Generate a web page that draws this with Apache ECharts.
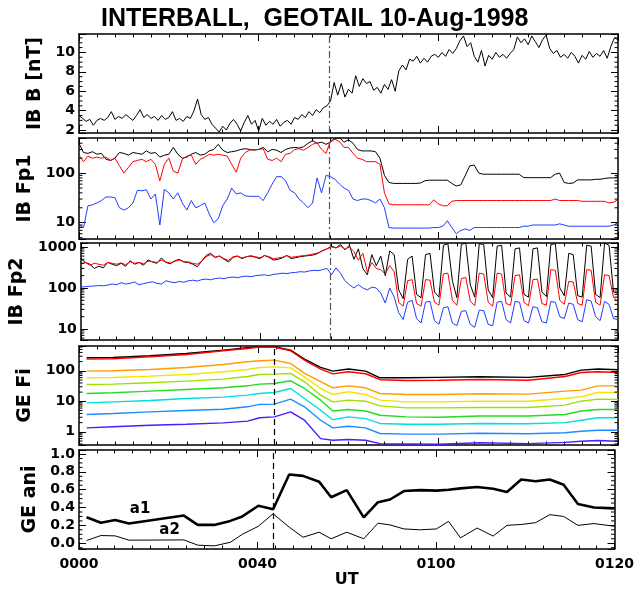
<!DOCTYPE html>
<html>
<head>
<meta charset="utf-8">
<title>INTERBALL, GEOTAIL 10-Aug-1998</title>
<script src="https://cdn.jsdelivr.net/npm/echarts@6/dist/echarts.min.js"></script>
<style>
  html, body { margin: 0; padding: 0; background: #fff; }
  #chart { width: 637px; height: 590px; }
</style>
</head>
<body>
<div id="chart"></div>
<script>
// time axis: 40 panel units between the labelled ticks
const X_TICK_LABELS = ['0000', '0040', '0100', '0120'];
const X_MIN = 0, X_MAX = 120;

const ONSET_IB = 55.7;   // dash-dot line in the INTERBALL panels
const ONSET_GE = 43.5;   // dashed line in the GEOTAIL panels

// IB B [nT], one sample every 0.8 units
const B_STEP = 0.8;
const B_NT = [
  3.5, 3.2, 2.9, 3.1, 2.5, 3.0, 3.2, 3.0, 3.3, 3.9, 3.1, 3.4, 3.2, 3.6, 3.3, 3.0,
  3.5, 4.1, 3.3, 3.6, 3.2, 3.4, 3.0, 3.5, 3.1, 3.3, 3.9, 3.0, 3.2, 2.9, 3.4,
  3.2, 4.0, 5.2, 3.6, 3.1, 3.3, 2.6, 2.2, 1.8, 2.4,
  2.0, 2.7, 3.1, 2.6, 1.9, 2.8, 3.5, 2.6, 3.0, 1.9, 3.2, 2.5, 2.9, 2.6, 3.1, 2.4, 2.8, 3.0, 2.6, 3.3,
  3.1, 3.6, 3.3, 3.9, 3.5, 4.1, 3.8, 4.3, 4.5,
  5.0, 6.9, 5.6, 6.8, 5.4, 6.2, 5.8, 7.6, 6.5, 7.3,
  6.8, 7.0, 6.1, 6.4, 5.8, 6.7, 6.2, 7.2, 6.0, 8.1,
  8.7, 8.2, 9.3, 9.1, 9.6, 8.9, 9.4, 9.0, 9.6, 9.8,
  9.5, 10.0, 9.6, 10.3, 9.9, 10.4, 11.2, 11.7, 10.6, 11.0,
  9.6, 9.0, 10.2, 8.6, 9.7, 9.3, 10.0, 9.5, 9.8, 9.4,
  9.9, 10.3, 11.6, 11.0, 11.4, 10.8, 11.7, 11.1, 10.5, 11.3,
  11.8, 10.4, 9.9, 10.2, 9.5, 9.8, 9.4, 10.0, 9.6, 8.9,
  9.7, 9.3, 10.1, 9.5, 9.9, 9.6, 10.2, 9.4, 10.6, 11.5, 11.3
];

// IB Fp1 and Fp2, one sample per unit
const FP_STEP = 1;
const FP1_BLACK = [
  400, 260, 250, 270, 240, 250, 190, 180, 200, 260,
  250, 230, 260, 250, 240, 280, 250, 260, 210, 230,
  240, 330, 240, 200, 210, 240, 260, 230, 240, 280,
  300, 380, 290, 260, 270, 280, 300, 310, 300, 290,
  300, 330, 270, 300, 290, 260, 300, 320, 330, 320,
  340, 400, 450, 400, 420, 380, 420, 500, 520, 420,
  470, 400, 300, 280, 280, 280, 270, 200, 90, 65,
  62, 62, 62, 62, 62, 62, 63, 70, 72, 72,
  72, 72, 72, 62, 55, 58, 90, 140, 145, 100,
  95, 95, 95, 95, 95, 95, 95, 95, 95, 81,
  81, 81, 81, 81, 81, 81, 95, 100, 65, 62,
  63, 73, 73, 73, 73, 75, 75, 78, 80, 80, 85
];
const FP1_RED = [
  230, 170, 220, 200, 210, 200, 210, 180, 200, 140,
  100, 130, 170, 180, 190, 170, 190, 150, 70, 150,
  200, 110, 100, 190, 220, 230, 150, 190, 210, 240,
  230, 240, 230, 220, 150, 104, 200, 260, 290, 300,
  300, 310, 190, 180, 200, 170, 240, 250, 300, 310,
  290, 330, 380, 410, 300, 250, 450, 480, 430, 330,
  330, 250, 200, 190, 170, 170, 170, 150, 40, 24,
  23, 23, 23, 23, 23, 23, 23, 23, 23, 29,
  24, 22, 22, 27, 28, 28, 28, 28, 28, 28,
  28, 28, 28, 28, 28, 28, 28, 28, 28, 28,
  28, 28, 28, 28, 28, 28, 30, 28, 28, 28,
  28, 28, 27, 27, 27, 27, 27, 27, 25, 26, 29
];
const FP1_BLUE = [
  9, 8, 22, 23, 25, 28, 33, 33, 32, 20,
  18, 20, 25, 45, 44, 46, 30, 38, 9, 47,
  40, 30, 40, 25, 18, 28, 20, 22, 25, 15,
  10, 12, 22, 30, 50, 38, 40, 35, 34, 34,
  34, 28, 40, 60, 85, 85, 70, 45, 40, 30,
  25, 20, 25, 80, 40, 90, 85, 75, 60, 50,
  45, 30, 28, 30, 30, 28, 25, 30, 20, 8,
  7.8, 7.8, 7.8, 7.8, 7.8, 7.8, 7.8, 7.8, 7.8, 8,
  8, 8.5, 11, 8, 6, 7, 7.5, 7, 8, 8,
  8, 8, 8, 8, 8, 8, 8, 8, 8, 8.5,
  8.5, 9, 9, 9, 9, 9, 9, 9.5, 9, 8.5,
  8.5, 8.5, 8.5, 8.5, 8.5, 8.5, 8.5, 8.5, 8.5, 9, 10
];
const FP2_BLACK = [
  520, 420, 380, 300, 340, 310, 420, 380, 350, 400,
  340, 460, 380, 420, 360, 480, 430, 400, 540, 420,
  390, 460, 500, 430, 420, 380, 330, 450, 620, 700,
  560, 600, 500, 430, 560, 600, 520, 580, 600, 560,
  520, 620, 560, 480, 500, 540, 620, 520, 550, 580,
  600, 620, 640, 700, 820, 900, 1050, 950, 1150, 850,
  1100, 500, 900, 300, 210, 650, 350, 600, 200, 800,
  650, 90, 55, 500, 600, 70, 58, 650, 700, 80,
  60, 1100, 1200, 150, 58, 1150, 1250, 120, 60, 1200,
  1150, 90, 58, 1050, 1100, 75, 60, 900, 950, 70,
  60, 900, 950, 80, 62, 1150, 1200, 100, 65, 700,
  650, 65, 60, 1100, 1050, 70, 58, 1250, 1100, 80, 75
];
const FP2_RED = [
  380, 420, 360, 400, 380, 360, 420, 400, 380, 410,
  370, 440, 400, 420, 390, 450, 440, 420, 480, 430,
  410, 450, 480, 440, 430, 400, 380, 450, 580, 650,
  560, 600, 520, 470, 580, 600, 540, 580, 610, 580,
  540, 620, 580, 520, 540, 560, 620, 560, 580, 600,
  620, 640, 680, 720, 800, 900, 1000, 950, 1050, 880,
  1000, 780, 480, 700, 250, 420, 300, 280, 220, 350,
  250, 45, 36, 150, 160, 42, 36, 160, 155, 45,
  38, 220, 230, 50, 38, 170, 180, 48, 37, 230,
  220, 45, 36, 230, 220, 42, 38, 200, 210, 45,
  37, 160, 165, 42, 38, 280, 270, 50, 40, 145,
  140, 42, 38, 280, 270, 45, 38, 210, 200, 60, 45
];
const FP2_BLUE = [
  105, 108, 110, 112, 115, 113, 118, 125, 120, 135,
  125, 130, 140, 120, 128, 135, 142, 130, 125, 150,
  140, 135, 145, 138, 150, 155, 148, 160, 165, 158,
  170, 175, 168, 180, 185, 178, 190, 195, 188, 200,
  205, 210, 200, 215, 220, 230, 225, 235, 240, 250,
  245, 260, 270, 265, 280, 300, 210, 310, 230, 150,
  120, 100, 120, 100, 90, 105, 100, 75, 43, 100,
  60, 25, 17, 45, 50, 18, 14, 45, 47, 16,
  13, 33, 35, 14, 12, 27, 28, 13, 11, 29,
  28, 13, 12, 45, 47, 17, 14, 47, 45, 16,
  14, 35, 33, 15, 14, 47, 45, 20, 18, 43,
  40, 17, 15, 52, 48, 20, 16, 47, 40, 18, 17
];

// GE Fi, energy channels (top = lowest energy)
const FI_TIME = [1.7, 7.6, 15.8, 23.9, 32.1, 37.5, 40.2, 43.5, 47.1, 50.2, 53.8, 56.5,
  60.0, 63.8, 67.0, 72.9, 80.1, 89.2, 100.0, 108.2, 111.8, 115.5, 120.0];
const FI_CH0 = [267, 273, 310, 370, 476, 568, 612, 612, 476, 241, 130, 98, 114, 98, 59, 59, 61, 64, 61, 76, 105, 114, 108];
const FI_CH1 = [241, 248, 288, 343, 453, 540, 597, 597, 453, 224, 114, 79, 93, 80, 51, 48, 49, 52, 49, 65, 88, 93, 88];
const FI_CH2 = [97.5, 100, 110.6, 128, 161, 197, 213, 224, 174, 82, 44, 27.7, 32, 27.7, 18, 16.7, 16.7, 17.6, 17.2, 21.6, 23.2, 32, 32];
const FI_CH3 = [58.9, 60.4, 66.8, 75.8, 92.7, 110.6, 128.5, 135, 125, 63.5, 26.4, 16.7, 20.5, 16.7, 10.9, 9.6, 9.6, 10.1, 10.1, 12.4, 14.1, 19.5, 19.5];
const FI_CH4 = [35.6, 36.5, 40.4, 45.8, 53.3, 65.2, 75.8, 77.8, 81.8, 43.6, 15.9, 9.6, 10.9, 10.1, 7.1, 6.1, 6.1, 6.3, 6.3, 7.5, 10.1, 11.8, 11.5];
const FI_CH5 = [18.1, 19, 21.5, 24.4, 27.7, 32.2, 36.5, 38.4, 47, 26.4, 10.9, 4.8, 5.4, 4.8, 3.5, 3.1, 3.0, 3.3, 3.3, 3.7, 4.8, 5.4, 5.4];
const FI_CH6 = [8.9, 9.6, 10.6, 12.4, 13.7, 15.9, 18.1, 19.5, 26.4, 12.4, 5.1, 2.5, 3.1, 2.7, 1.88, 1.78, 1.78, 1.88, 1.83, 2.0, 2.4, 2.9, 2.9];
const FI_CH7 = [3.7, 4.0, 4.5, 5.0, 5.5, 6.6, 7.9, 8.1, 11.8, 6.6, 2.4, 1.35, 1.53, 1.35, 0.88, 0.84, 0.84, 0.90, 0.86, 0.93, 1.05, 1.13, 1.13];
const FI_CH8 = [1.35, 1.46, 1.65, 1.78, 1.97, 2.24, 2.9, 3.1, 4.5, 2.4, 0.60, 0.53, 0.56, 0.53, 0.41, 0.40, 0.39, 0.44, 0.41, 0.45, 0.49, 0.52, 0.49];
const FI_COLORS = ['#000000', '#ff0000', '#ff9c00', '#f2e600', '#9be000', '#22dd22', '#00dede', '#1c8cff', '#4a1cff'];

// GE anisotropy a1, a2
const ANI_TIME = [1.7, 4.9, 8.1, 11.2, 23.5, 26.6, 30.3, 33.9, 36.6, 40.2, 43.5, 47.1, 50.2, 53.8,
  56.5, 60.0, 63.8, 67.0, 69.7, 72.8, 76.5, 80.1, 82.8, 85.5, 89.2, 92.8, 95.9, 99.1, 102.3,
  105.5, 108.6, 111.8, 115.4, 120.0];
const ANI_A1 = [0.29, 0.23, 0.26, 0.22, 0.31, 0.205, 0.205, 0.25, 0.30, 0.42, 0.38, 0.77, 0.755, 0.69,
  0.515, 0.595, 0.29, 0.46, 0.49, 0.585, 0.595, 0.59, 0.60, 0.615, 0.63, 0.61, 0.575, 0.715, 0.695,
  0.715, 0.655, 0.44, 0.40, 0.39];
const ANI_A2 = [0.03, 0.086, 0.082, 0.034, 0.037, -0.022, -0.03, 0.01, 0.10, 0.19, 0.33, 0.18, 0.067, 0.123,
  0.05, 0.123, 0.05, 0.224, 0.205, 0.16, 0.15, 0.16, 0.245, 0.06, 0.17, 0.08, 0.2, 0.21, 0.23,
  0.32, 0.30, 0.2, 0.22, 0.19];

const TITLE_FONT = 'Liberation Sans, Arial, Helvetica, sans-serif';
const FONT = 'DejaVu Sans, Verdana, sans-serif';

const stepTimes = (n, step) => Array.from({ length: n }, (_, i) => +(i * step).toFixed(3));
const pairs = (times, vals) => vals.map((v, i) => [times[i], v]);

// panel layout (px)
const PANELS = [
  { top: 34, height: 99 },
  { top: 138, height: 101 },
  { top: 243, height: 97 },
  { top: 346, height: 99 },
  { top: 450, height: 99 }
];

const Y_CFG = [
  { name: 'IB B [nT]', type: 'value', min: 1.7, max: 11.9, step: 2, nameGap: 28 },
  { name: 'IB Fp1', type: 'log', min: 4.7, max: 510, nameGap: 38 },
  { name: 'IB Fp2', type: 'log', min: 5.4, max: 1250, nameGap: 38 },
  { name: 'GE Fi', type: 'log', min: 0.37, max: 650, nameGap: 38 },
  { name: 'GE ani', type: 'value', min: -0.065, max: 1.045, step: 0.2, nameGap: 38 }
];

const AXIS_LINE = { show: true, onZero: false, lineStyle: { color: '#000', width: 1.5 } };
const TICK = { show: true, inside: true, length: 7, lineStyle: { color: '#000', width: 1 } };
const LABEL_FONT = { fontFamily: FONT, fontWeight: 'bold', fontSize: 14, color: '#000' };
const NAME_FONT = { fontFamily: FONT, fontWeight: 'bold', fontSize: 19, color: '#000' };

function isPow10(v) {
  const l = Math.log10(v);
  return Math.abs(l - Math.round(l)) < 1e-6;
}

const xAxes = [], yAxes = [], grids = [];
PANELS.forEach((p, i) => {
  grids.push({ left: 79, right: 19, top: p.top, height: p.height, containLabel: false });
  const last = i === PANELS.length - 1;
  const xCommon = {
    type: 'value', gridIndex: i, min: X_MIN, max: X_MAX, interval: 40,
    splitLine: { show: false }, axisLine: AXIS_LINE, axisTick: TICK,
    minorTick: { show: true, splitNumber: 10, length: 3.5, lineStyle: { color: '#000', width: 1 } }
  };
  xAxes.push(Object.assign({}, xCommon, {
    position: 'bottom',
    axisLabel: last ? Object.assign({ show: true, margin: 8, formatter: v => X_TICK_LABELS[Math.round(v / 40)] }, LABEL_FONT) : { show: false },
    name: last ? 'UT' : '', nameLocation: 'middle', nameGap: 22,
    nameTextStyle: Object.assign({}, LABEL_FONT, { fontSize: 16 })
  }));
  xAxes.push(Object.assign({}, xCommon, { position: 'top', axisLabel: { show: false } }));

  const c = Y_CFG[i];
  const yCommon = {
    type: c.type, gridIndex: i, min: c.min, max: c.max,
    splitLine: { show: false }, axisLine: AXIS_LINE, axisTick: TICK, minorTick: { show: false }
  };
  if (c.type === 'log') yCommon.logBase = 10;
  const fmt = c.type === 'log'
    ? v => (isPow10(v) ? String(Math.round(v * 1000) / 1000) : '')
    : v => {
        const k = v / c.step;
        if (Math.abs(k - Math.round(k)) > 1e-6) return '';
        return c.step < 1 ? v.toFixed(1) : String(Math.round(v));
      };
  yAxes.push(Object.assign({}, yCommon, {
    position: 'left',
    axisLabel: Object.assign({ show: true, margin: 4, formatter: fmt }, LABEL_FONT),
    name: c.name, nameLocation: 'middle', nameGap: c.nameGap,
    nameTextStyle: NAME_FONT
  }));
  yAxes.push(Object.assign({}, yCommon, { position: 'right', axisLabel: { show: false } }));
});

// minor tick values for the y axes (drawn on both sides of each panel)
function logMinor(lo, hi) {
  const out = [];
  for (let e = Math.floor(Math.log10(lo)); e <= Math.ceil(Math.log10(hi)); e++) {
    for (let m = 2; m <= 9; m++) {
      const v = m * Math.pow(10, e);
      if (v > lo && v < hi) out.push(v);
    }
  }
  return out;
}
function linMinor(lo, hi, major, n) {
  const out = [];
  const d = major / n;
  for (let k = Math.ceil(lo / d); k * d < hi; k++) {
    if (k % n !== 0) out.push(+(k * d).toFixed(6));
  }
  return out;
}
const Y_MINOR = [
  linMinor(1.7, 11.9, 2, 4),
  logMinor(4.7, 510),
  logMinor(5.4, 1250),
  logMinor(0.37, 650),
  linMinor(-0.065, 1.045, 0.2, 4)
];

function minorTicks(i, values) {
  return {
    type: 'custom', xAxisIndex: 2 * i, yAxisIndex: 2 * i, silent: true, z: 5,
    animation: false,
    data: values.map(v => [X_MIN, v]),
    renderItem: (params, api) => {
      const l = api.coord([X_MIN, api.value(1)]);
      const r = api.coord([X_MAX, api.value(1)]);
      return {
        type: 'group', children: [
          { type: 'line', shape: { x1: l[0], y1: l[1], x2: l[0] + 3.5, y2: l[1] }, style: { stroke: '#000', lineWidth: 1 } },
          { type: 'line', shape: { x1: r[0] - 3.5, y1: r[1], x2: r[0], y2: r[1] }, style: { stroke: '#000', lineWidth: 1 } }
        ]
      };
    }
  };
}

function line(i, data, color, width, extra) {
  return Object.assign({
    type: 'line', xAxisIndex: 2 * i, yAxisIndex: 2 * i, data,
    symbol: 'none', showSymbol: false, silent: true, animation: false,
    lineStyle: { color, width }, itemStyle: { color }
  }, extra || {});
}

function vline(x, style) {
  return {
    silent: true, symbol: ['none', 'none'], label: { show: false },
    lineStyle: style, data: [{ xAxis: x }]
  };
}

const IB_MARK = { color: '#555', width: 1.2, type: [7, 3, 2, 3] };
const GE_MARK = { color: '#000', width: 1.2, type: [6, 4] };

const bTimes = stepTimes(B_NT.length, B_STEP);
const fpTimes = stepTimes(FP1_BLACK.length, FP_STEP);

const series = [
  line(0, pairs(bTimes, B_NT), '#000', 1, { markLine: vline(ONSET_IB, IB_MARK) }),

  line(1, pairs(fpTimes, FP1_BLACK), '#000', 1, { markLine: vline(ONSET_IB, IB_MARK) }),
  line(1, pairs(fpTimes, FP1_RED), '#ff0000', 1),
  line(1, pairs(fpTimes, FP1_BLUE), '#1f3cff', 1),

  line(2, pairs(fpTimes, FP2_BLACK), '#000', 1, { markLine: vline(ONSET_IB, IB_MARK) }),
  line(2, pairs(fpTimes, FP2_RED), '#ff0000', 1),
  line(2, pairs(fpTimes, FP2_BLUE), '#1f3cff', 1)
];

[FI_CH0, FI_CH1, FI_CH2, FI_CH3, FI_CH4, FI_CH5, FI_CH6, FI_CH7, FI_CH8].forEach((ch, k) => {
  series.push(line(3, pairs(FI_TIME, ch), FI_COLORS[k], 1.4,
    k === 0 ? { markLine: vline(ONSET_GE, GE_MARK) } : {}));
});

series.push(line(4, pairs(ANI_TIME, ANI_A1), '#000', 2.6, {
  markLine: vline(ONSET_GE, GE_MARK),
  markPoint: {
    symbol: 'circle', symbolSize: 0, silent: true,
    label: Object.assign({ show: true, position: 'inside', formatter: p => p.name }, LABEL_FONT, { fontSize: 15 }),
    data: [{ name: 'a1', coord: [13.7, 0.384] }, { name: 'a2', coord: [20.3, 0.149] }]
  }
}));
series.push(line(4, pairs(ANI_TIME, ANI_A2), '#000', 1));

Y_MINOR.forEach((vals, i) => series.push(minorTicks(i, vals)));

const chart = echarts.init(document.getElementById('chart'), null, { renderer: 'canvas' });
chart.setOption({
  animation: false,
  backgroundColor: '#fff',
  title: {
    text: 'INTERBALL,  GEOTAIL 10-Aug-1998', left: 96, top: 2,
    textStyle: { fontFamily: TITLE_FONT, fontWeight: 'bold', fontSize: 25, color: '#000' }
  },
  grid: grids,
  xAxis: xAxes,
  yAxis: yAxes,
  series: series
});
</script>
</body>
</html>
